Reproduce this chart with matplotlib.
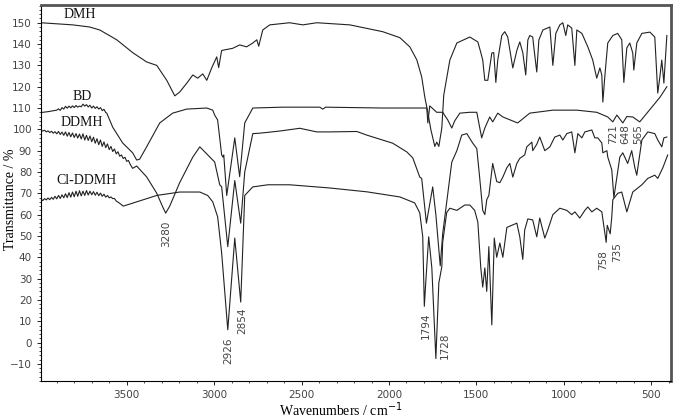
import matplotlib

matplotlib.use("Agg")
import matplotlib.pyplot as plt
import numpy as np
from matplotlib.ticker import MultipleLocator

# ---- spectra (wavenumber cm-1, transmittance %) ----
DMH_WN = [3992, 3900, 3809, 3712, 3654, 3557, 3466, 3386, 3328, 3271, 3225, 3197, 3157,
          3122, 3094, 3065, 3042, 3014, 2985, 2974, 2957, 2894, 2854, 2814, 2779, 2756,
          2745, 2722, 2682, 2568, 2493, 2413, 2224, 2036, 1938, 1881, 1841, 1813, 1795,
          1778, 1761, 1738, 1727, 1715, 1698, 1687, 1652, 1612, 1538, 1492, 1475, 1464,
          1452, 1435, 1412, 1401, 1389, 1378, 1355, 1338, 1321, 1292, 1269, 1252, 1235,
          1218, 1206, 1195, 1178, 1172, 1155, 1143, 1120, 1080, 1063, 1046, 1023, 1006,
          989, 978, 955, 937, 926, 897, 863, 835, 812, 794, 783, 777, 766, 749, 720, 692,
          669, 657, 640, 623, 606, 600, 583, 554, 508, 480, 463, 451, 440, 428, 411]
DMH_T = [150, 149.5, 149, 148, 146.6, 142, 136, 131.6, 130, 123, 115.7, 117.5, 121.6,
         125.5, 124, 126, 123, 128.8, 134, 129, 137, 138, 139.6, 138.7, 140.5, 142,
         139, 146.6, 149, 150, 149, 150, 149, 145.8, 143, 138.7, 132.6, 124.6, 115,
         108, 100, 92, 94, 92, 100.6, 116, 132.5, 140.5, 143.3, 141, 136, 132.5,
         123, 123, 135.8, 136, 122, 132.5, 144, 145.8, 143.3, 128.8, 137, 141, 136,
         125.5, 141.9, 144, 143.3, 138.7, 126.9, 141.9, 146.6, 148, 130, 145, 149, 150,
         144, 149, 147.5, 130, 146.6, 145, 138.7, 132.5, 124, 128.8, 125.5, 112.8, 124.6, 140.5, 144, 145,
         142, 122, 138.2, 140.5, 135.8, 127.8, 140.5, 145, 145.6, 143.3, 117, 124.6, 132.5, 121.7, 144]

BD_WN = [3998, 3950, 3900, 3890, 3880, 3870, 3860, 3850, 3840, 3830, 3820, 3810, 3800,
         3790, 3780, 3770, 3760, 3750, 3740, 3730, 3720, 3710, 3700, 3690, 3680, 3670,
         3660, 3650, 3640, 3630, 3620, 3614, 3580, 3523, 3466, 3443, 3426, 3386, 3311,
         3237, 3157, 3042, 3008, 2997, 2980, 2957, 2950, 2945, 2928, 2882, 2854, 2825,
         2779, 2608, 2396, 2379, 2362, 2036, 1784, 1778, 1767, 1727, 1693, 1664, 1641,
         1624, 1595, 1538, 1498, 1470, 1452, 1424, 1407, 1378, 1349, 1264, 1195, 1063,
         926, 812, 749, 720, 697, 663, 640, 606, 566, 451, 411]
BD_T = [107.8, 108.3, 109, 109.6, 108.9, 110.2, 109.5, 110.8, 109.9, 110.9, 110.1, 111.0, 110.2,
        111.2, 110.4, 110.9, 110.6, 111.8, 110.9, 111.6, 110.5, 111.3, 110.0, 110.9, 109.8, 110.6,
        109.5, 110.2, 108.8, 109.4, 107.9, 107.6, 101, 93.6, 89, 85.6, 86, 91.8, 103,
        107.6, 109.5, 110, 109, 106.7, 104.4, 88, 87, 88, 69, 96, 77.8, 103,
        110, 110.4, 110.4, 109.5, 110.4, 110, 110, 103, 111, 108, 108, 104.4, 100.6,
        104, 107.6, 108, 108, 96, 100.6, 105.8, 103.5, 107.6, 105.8, 103, 107.6, 109,
        109, 108, 105.8, 103.5, 106.7, 103, 106, 105.8, 103.5, 115, 120]

DDMH_WN = [3998, 3990, 3980, 3970, 3960, 3950, 3940, 3930, 3920, 3910, 3900, 3890, 3880,
           3870, 3860, 3850, 3840, 3830, 3820, 3810, 3800, 3790, 3780, 3770, 3760, 3750,
           3740, 3730, 3720, 3710, 3700, 3690, 3680, 3670, 3660, 3650, 3640, 3630, 3620,
           3610, 3600, 3590, 3580, 3570, 3560, 3550, 3540, 3530, 3520, 3510, 3500, 3490,
           3480, 3466, 3443, 3386, 3328, 3294, 3277, 3254, 3197, 3122, 3082, 2997, 2968,
           2957, 2922, 2882, 2848, 2825, 2779, 2739, 2625, 2510, 2413, 2339, 2184, 2127,
           1979, 1898, 1864, 1824, 1813, 1786, 1755, 1750, 1732, 1707, 1693, 1652, 1641,
           1612, 1584, 1555, 1521, 1498, 1481, 1464, 1452, 1441, 1429, 1407, 1384, 1366,
           1349, 1326, 1309, 1292, 1269, 1252, 1241, 1224, 1212, 1183, 1178, 1155, 1138,
           1109, 1080, 1052, 1023, 1006, 983, 955, 937, 920, 897, 880, 840, 823, 806, 783,
           777, 754, 749, 726, 714, 697, 680, 663, 635, 612, 594, 583, 554, 520, 480, 463,
           440, 428, 411]
DDMH_T = [99.7, 99.5, 99.2, 99.6, 98.8, 99.3, 98.5, 99.1, 98.2, 98.9, 97.9, 99.0, 97.6,
          98.7, 97.2, 98.8, 96.8, 98.5, 96.5, 98.3, 96.2, 98.0, 95.9, 97.8, 95.5, 97.9,
          95.0, 97.2, 94.8, 96.9, 94.2, 96.3, 93.5, 95.6, 92.8, 95.0, 92.0, 94.1, 91.4,
          93.2, 90.5, 92.0, 89.6, 90.8, 88.5, 89.5, 87.4, 88.0, 86.3, 86.9, 85.0, 85.4,
          83.6, 81.7, 82.8, 77.7, 70, 63.6, 60.7, 64, 75, 87, 91.8, 84.7, 74,
          73, 45, 76, 56, 80, 98, 98.2, 99.2, 100.5, 98.8, 98.8, 99, 97.3,
          93.5, 89.4, 86.6, 77.6, 77, 56, 70.6, 73, 60, 36, 51, 77.6, 84.6,
          90, 97.3, 98, 93.5, 91, 77, 62, 60, 67, 69, 84, 75.5, 75,
          77.6, 82, 84, 77.6, 84, 86.4, 87, 88, 91.8, 94, 90, 93, 96.4,
          90, 91.8, 96.4, 97.3, 95, 98, 98.8, 89, 98, 96, 98.8, 99.7, 96, 96, 93.6,
          89, 90, 87, 81, 68, 77.6, 87, 89, 84, 90, 82, 78.5, 95, 98.8, 98, 95,
          91.8, 96, 96.4]

CLDDMH_WN = [3998, 3990, 3980, 3970, 3960, 3950, 3940, 3930, 3920, 3910, 3900, 3890, 3880,
             3870, 3860, 3850, 3840, 3830, 3820, 3810, 3800, 3790, 3780, 3770, 3760, 3750,
             3740, 3730, 3720, 3710, 3700, 3690, 3680, 3670, 3660, 3650, 3640, 3630, 3620,
             3610, 3600, 3590, 3580, 3570, 3560, 3540, 3520, 3500, 3443, 3328, 3197, 3082,
             3037, 3008, 2980, 2957, 2922, 2882, 2848, 2825, 2779, 2693, 2568, 2339, 2127,
             1938, 1853, 1824, 1807, 1798, 1790, 1773, 1755, 1732, 1715, 1698, 1693, 1670,
             1652, 1612, 1567, 1538, 1510, 1492, 1475, 1464, 1452, 1441, 1429, 1412, 1398,
             1384, 1366, 1349, 1326, 1298, 1269, 1252, 1235, 1224, 1206, 1178, 1155, 1138,
             1109, 1092, 1063, 1023, 983, 955, 937, 909, 880, 863, 840, 812, 783, 758, 752,
             735, 726, 720, 692, 669, 640, 623, 606, 554, 520, 480, 463, 434, 406]
CLDDMH_T = [66.8, 67.3, 66.6, 67.5, 66.9, 67.8, 67.0, 68.1, 67.2, 68.6, 67.4, 69.0, 67.6,
            69.3, 67.9, 69.8, 68.0, 70.3, 68.2, 70.6, 68.4, 71.0, 68.6, 71.2, 68.8, 71.0,
            69.0, 71.3, 69.2, 71.0, 69.3, 70.8, 69.1, 70.5, 68.9, 70.1, 68.6, 69.6, 68.2,
            69.0, 67.9, 68.3, 67.5, 67.6, 66.4, 65.3, 64.0, 64.5, 66, 69, 70.6, 70.6,
            69, 66, 59, 42, 6, 49, 19, 69, 73, 74, 74, 72.5, 70.7,
            68.3, 65.5, 60.8, 49.6, 17, 28, 49.6, 35, -7.5, 28, 35.5, 47, 61,
            63, 62, 64.5, 64.5, 62, 56.5, 35, 26, 35, 24, 45, 8.3, 49,
            40, 46.7, 40, 54, 55, 56, 49.6, 39, 52.8, 58, 57.5, 49.6, 58.4,
            49, 52.8, 60, 63, 62, 60, 61.3, 58.4, 62, 63.6, 61.3, 63, 61.3, 47, 55,
            51, 59, 67, 70, 70.6, 61.3, 66, 70.6, 74, 77, 78.5, 77, 82, 88]

CURVE_NAMES = ["DMH", "BD", "DDMH", "Cl-DDMH"]
PEAK_LABELS = ["3280", "2926", "2854", "1794", "1728", "758", "735", "721", "648", "565"]

fig = plt.figure(figsize=(6.78, 4.2), dpi=100)
ax = fig.add_axes([0.0605, 0.093, 0.929, 0.895])

line_kw = dict(color="#222222", linewidth=0.8)
ax.plot(DMH_WN, DMH_T, **line_kw)
ax.plot(BD_WN, BD_T, **line_kw)
ax.plot(DDMH_WN, DDMH_T, **line_kw)
ax.plot(CLDDMH_WN, CLDDMH_T, **line_kw)

serif = "Liberation Serif"
name_pos = [(3769, 153.8), (3752, 115.2), (3757, 103.4), (3729, 76.0)]
for name, (x, y) in zip(CURVE_NAMES, name_pos):
    ax.text(x, y, name, family=serif, fontsize=10, ha="center", va="center", color="#111111")

peak_pos = [(3277, 57.4), (2922, 2.2), (2842, 16.3), (1790, 13.9), (1681, 4.5),
            (777, 43.4), (697, 47.0), (720, 102.3), (651, 102.3), (577, 102.3)]
for lab, (x, y) in zip(PEAK_LABELS, peak_pos):
    ax.text(x, y, lab, rotation=90, ha="center", va="top", fontsize=7.5,
            color="#444444", family="DejaVu Sans")

ax.set_xlim(3990, 388)
ax.set_ylim(-18, 158.3)
ax.xaxis.set_minor_locator(MultipleLocator(100))
ax.set_xticks([3500, 3000, 2500, 2000, 1500, 1000, 500])
ax.set_yticks(np.arange(-10, 151, 10))
ax.yaxis.set_minor_locator(MultipleLocator(2))
ax.tick_params(axis="both", which="major", labelsize=7.5, labelcolor="#444444",
               direction="out", length=3, width=0.6)
ax.tick_params(axis="both", which="minor", direction="out", length=1.5, width=0.5)

# axis titles placed in figure coordinates so they sit inside the canvas
fig.text(0.502, 0.024, "Wavenumbers / cm$^{-1}$", family=serif, fontsize=10,
         ha="center", va="center")
fig.text(0.016, 0.525, "Transmittance / %", family=serif, fontsize=10,
         ha="center", va="center", rotation=90)

ax.spines["left"].set_linewidth(0.8)
ax.spines["bottom"].set_linewidth(0.8)
for side in ("top", "right"):
    ax.spines[side].set_color("#555555")
    ax.spines[side].set_linewidth(2.0)

fig.savefig("out.png", dpi=100)
